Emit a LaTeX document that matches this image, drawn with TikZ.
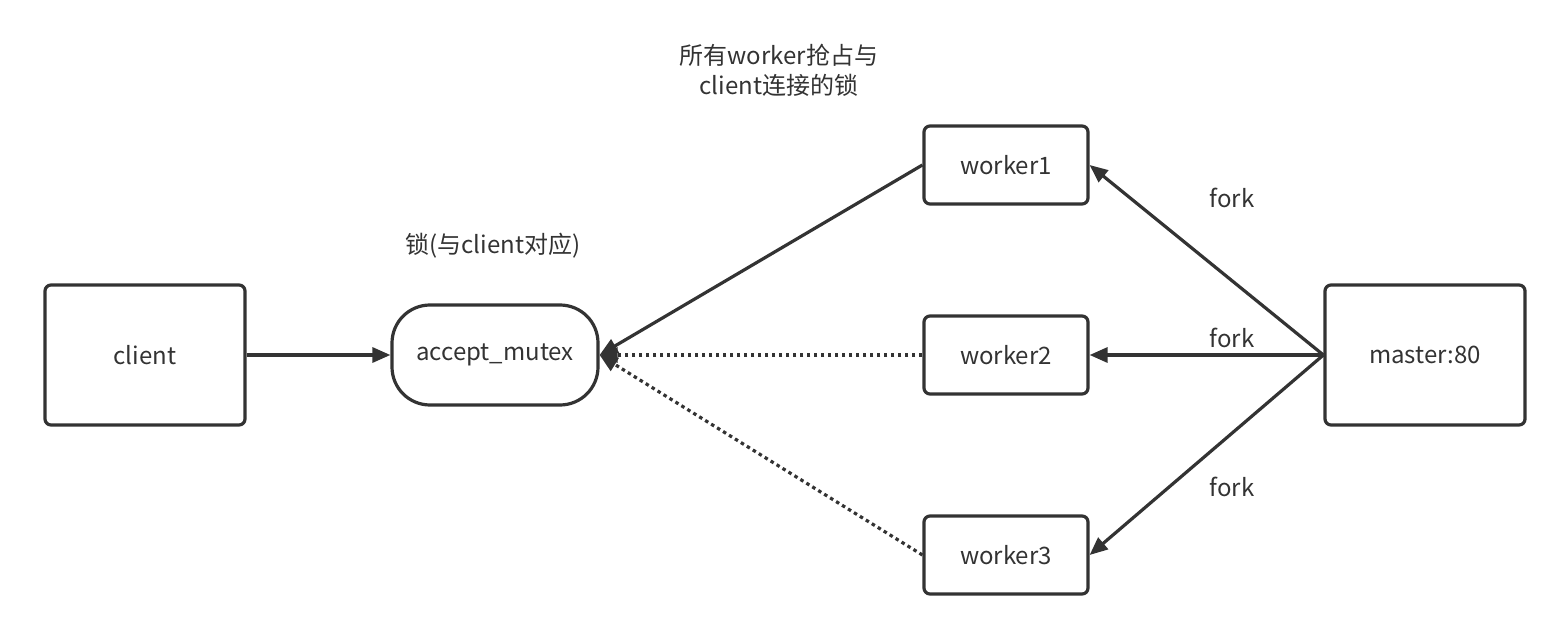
\documentclass[tikz,border=0pt]{standalone}
\usepackage{fontspec}
\setmainfont{Noto Sans CJK SC}
\usetikzlibrary{arrows.meta}
\definecolor{ink}{HTML}{333333}
\begin{document}
\begin{tikzpicture}[x=1pt,y=-1pt,
  box/.style={draw=ink,line width=3.2pt,rounded corners=6pt,inner sep=0pt,text=ink,font=\fontsize{24}{28}\selectfont},
  lbl/.style={text=ink,font=\fontsize{24}{30}\selectfont,inner sep=0pt,align=center},
  conn/.style={draw=ink,line width=3.2pt,-{Triangle[length=18pt,width=15pt]}},
  dots/.style={conn,dash pattern=on 3.5pt off 3.5pt}]
\useasboundingbox (0,0) rectangle (1568,644);
\node[box,minimum width=200pt,minimum height=140pt] (client) at (145,355) {client};
\node[box,minimum width=206pt,minimum height=100pt,rounded corners=38pt] (mutex) at (495,355) {accept\_mutex};
\node[box,minimum width=164pt,minimum height=78pt] (w1) at (1006,165) {worker1};
\node[box,minimum width=164pt,minimum height=78pt] (w2) at (1006,355) {worker2};
\node[box,minimum width=164pt,minimum height=78pt] (w3) at (1006,555) {worker3};
\node[box,minimum width=200pt,minimum height=140pt] (master) at (1425,355) {master:80};
\draw[conn] (client) -- (mutex);
\draw[conn] (w1.west) -- (mutex.east);
\draw[dots] (w2.west) -- (mutex.east);
\draw[dots] (w3.west) -- (mutex.east);
\draw[conn] (master.west) -- (w1.east);
\draw[conn] (master.west) -- (w2.east);
\draw[conn] (master.west) -- (w3.east);
\node[lbl] (f1) at (1232,198) {fork};
\node[lbl] (f2) at (1232,338) {fork};
\node[lbl] (f3) at (1232,487) {fork};
\node[lbl] (lock) at (493,246) {锁(与client对应)};
\node[lbl] (title) at (779,70) {所有worker抢占与\\client连接的锁};
\end{tikzpicture}
\end{document}
